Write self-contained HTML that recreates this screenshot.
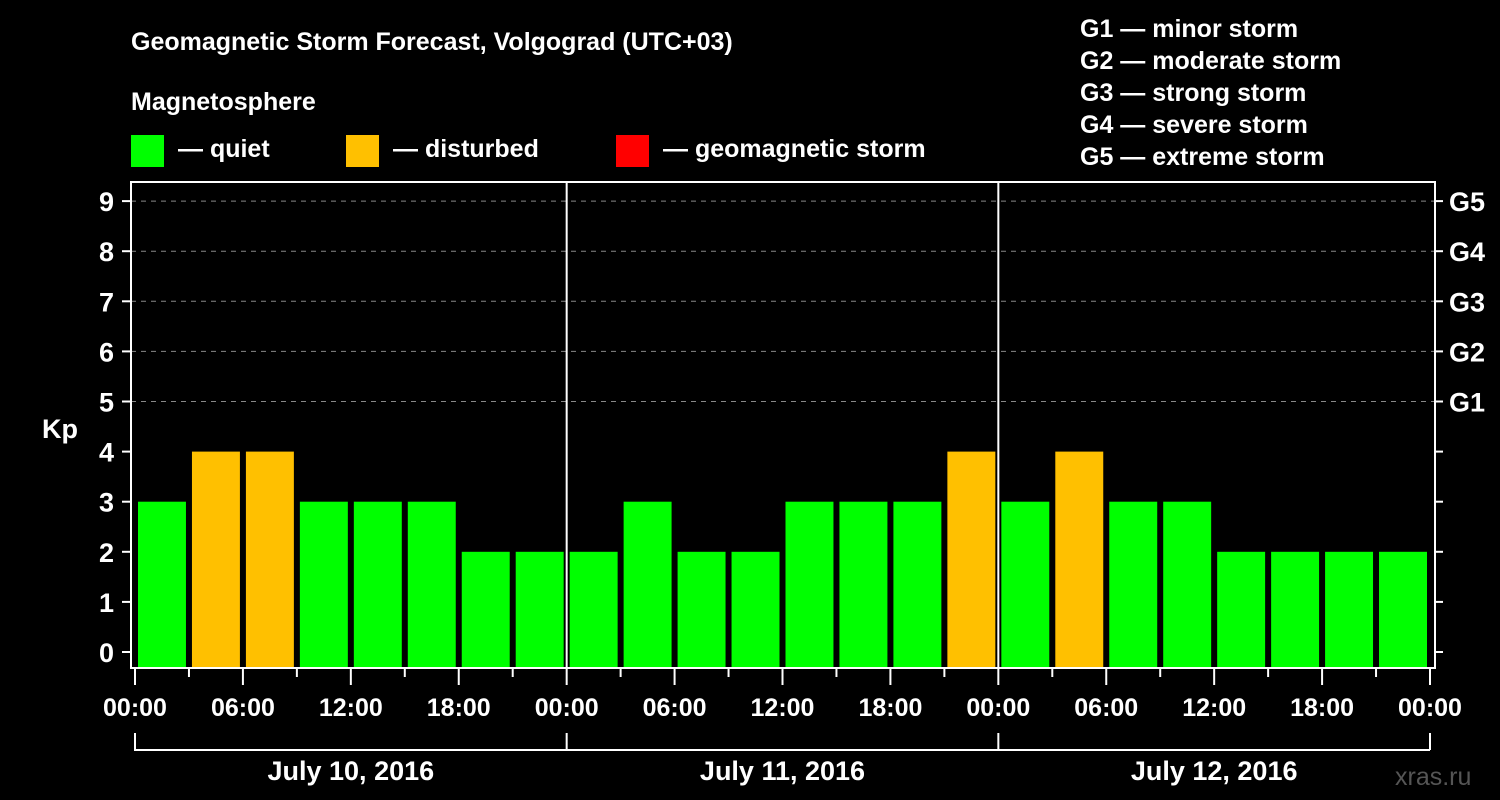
<!DOCTYPE html>
<html><head><meta charset="utf-8"><style>
html,body{margin:0;background:#000;}
svg{display:block;font-family:"Liberation Sans",Arial,sans-serif;font-weight:bold;}
</style></head><body>
<svg id="c" width="1500" height="800" viewBox="0 0 1500 800">
<text x="131" y="50" fill="#fff" font-size="25">Geomagnetic Storm Forecast, Volgograd (UTC+03)</text>
<text x="131" y="110" fill="#fff" font-size="25">Magnetosphere</text>
<g><rect x="131" y="135" width="33" height="32" fill="#00ff00"/><text x="178" y="157" fill="#fff" font-size="25">— quiet</text></g>
<g><rect x="346" y="135" width="33" height="32" fill="#ffc000"/><text x="393" y="157" fill="#fff" font-size="25">— disturbed</text></g>
<g><rect x="616" y="135" width="33" height="32" fill="#ff0000"/><text x="663" y="157" fill="#fff" font-size="25">— geomagnetic storm</text></g>
<g fill="#fff" font-size="25">
<text x="1080" y="37">G1 — minor storm</text><text x="1080" y="69">G2 — moderate storm</text><text x="1080" y="101">G3 — strong storm</text><text x="1080" y="133">G4 — severe storm</text><text x="1080" y="165">G5 — extreme storm</text>
</g>
<text x="42" y="438" fill="#fff" font-size="27">Kp</text>
<text x="1395" y="785" fill="#555" font-size="25" font-weight="normal">xras.ru</text>
<g id="plot"></g>
</svg>
<script>
const kpValues=[3,4,4,3,3,3,2,2, 2,3,2,2,3,3,3,4, 3,4,3,3,2,2,2,2];
const dayLabels=["July 10, 2016","July 11, 2016","July 12, 2016"];
const hourLabels=["00:00","06:00","12:00","18:00"];
const gLabels=["G1","G2","G3","G4","G5"];
const NS="http://www.w3.org/2000/svg";
const g=document.getElementById('plot');
const L=131,R=1435,T=182,B=668,X0=135,X1=1430;
const nBars=kpValues.length;
const xs=i=>X0+(X1-X0)*i/nBars;
const ys=v=>652-v*50.1;
function mk(t,a,p){const e=document.createElementNS(NS,t);for(const k in a)e.setAttribute(k,a[k]);(p||g).appendChild(e);return e;}
// grid
for(let v=5;v<=9;v++){
 const e=mk('line',{x1:L,x2:R,y1:ys(v),y2:ys(v),stroke:'#888','stroke-dasharray':'5,5','stroke-width':1});
 
 
}
// bars
kpValues.forEach((v,i)=>{
 const x=xs(i)+3,w=(X1-X0)/nBars-6;
 const r=mk('rect',{x:x,y:ys(v),width:w,height:B-1-ys(v),fill:v>=5?'#ff0000':(v>=4?'#ffc000':'#00ff00')});
 
 
});
// day separators
for(let d=1;d<dayLabels.length;d++){const x=xs(d*8);mk('line',{x1:x,x2:x,y1:T,y2:B,stroke:'#fff','stroke-width':2});}
// frame
const f=mk('rect',{x:L,y:T,width:R-L,height:B-T,fill:'none',stroke:'#fff','stroke-width':2});


// y ticks
for(let v=0;v<=9;v++){
 const y=ys(v);
 mk('line',{x1:122,x2:L,y1:y,y2:y,stroke:'#fff','stroke-width':2});
 mk('line',{x1:R,x2:R+8,y1:y,y2:y,stroke:'#fff','stroke-width':2});
 const t=mk('text',{x:114,y:y+10,fill:'#fff','font-size':27,'text-anchor':'end'});t.textContent=v;
 
 
 if(v>=5){const gt=mk('text',{x:1449,y:y+10,fill:'#fff','font-size':27});gt.textContent=gLabels[v-5];
  
  }
}
// x ticks
for(let i=0;i<=nBars;i++){
 const x=xs(i),major=i%2===0;
 mk('line',{x1:x,x2:x,y1:B,y2:major?685:677,stroke:'#fff','stroke-width':2});
 if(major){const t=mk('text',{x:x,y:716,fill:'#fff','font-size':25,'text-anchor':'middle'});
  t.textContent=hourLabels[(i/2)%4];
  
  }
}
// day brackets
dayLabels.forEach((d,k)=>{
 const a=xs(k*8),b=xs(k*8+8);
 mk('path',{d:`M${a},733V750H${b}`,stroke:'#fff','stroke-width':2,fill:'none'});
 const t=mk('text',{x:(a+b)/2,y:780,fill:'#fff','font-size':27,'text-anchor':'middle'});t.textContent=d;
 
 
});
mk('line',{x1:X1,x2:X1,y1:733,y2:750,stroke:'#fff','stroke-width':2});
</script>
</body></html>
